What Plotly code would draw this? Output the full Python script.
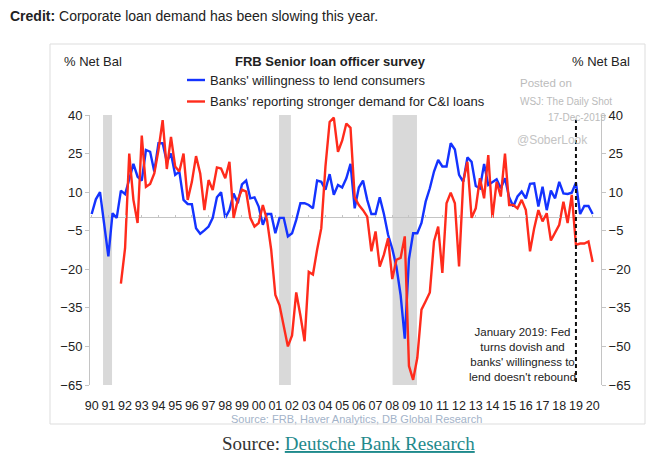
import plotly.graph_objects as go

# ---------------- data ----------------
BLUE_START = 1990.0   # quarterly series start (decimal year)
blue_vals = [
    1.5, 7.2, 10, -2.5, -15, 1.8, 0, 10.6, 9.2, 15, 21, 16, 14.5, 26.4, 25.7, 18,
    29, 29, 21.8, 25, 16.7, 18, 7, 5.4, 5.3, -4, -6.2, -4.9, -3.4, 0, 8, 10,
    0, 3, 9.5, 5.7, 13, 14.5, 7.6,
    8, 4.4, -2.7, 1.5, 1.5, -6, 0, 0, -7.2, -6, -0.8, 5.7, 5.7, 5, 3.7, 14.5,
    14, 11, 17, 9, 12.8, 11.8, 15.4, 21, 3.7, 11.8, 14.5, 7, 1.5, 1.5, 8, 1.5,
    -6.6, -12, -19, -30, -47, -16, -6, -6, -2,
    6.3, 11.5, 18, 22.5, 20, 20, 29, 26.6, 16.7, 14, 23.5, 21.8, 12.4, 11.5, 21,
    12.8, 14, 15, 11.5, 15.4, 8, 4.4, 8.3, 10.2, 7.6, 13.2, 13.4, 4.4, 12.1, 3,
    10.6, 7.6, 14, 9.5, 9.3, 9.8, 13.7, 1.5, 4.6, 4.6, 1.5,
]
RED_START = 1991.75
red_vals = [
    -25.6, -11.8, 25, 7, -2, 32, 12.1, 13.2, 17.3, 26.4, 38, 19, 31.5, 20, 18, 25,
    7, 14, 24, 17.3, 3, 14.7, 10.8, 19.6, 19.2, 15.4, 21.8, 0, 7, 11, 10.2, 0,
    -3.4, -2, 5, -0.8, -12.4, -30, -34, -42, -50, -45.7, -29, -38, -48, -21, -22,
    -12.4, -4, 20, 37.3, 39, 25.7, 30, 36.7, 35, 8, 5, 3, 0.5, -13, -5.3, -19,
    -14.3, -7.9, -23.8, -16.3, -15.6, -7.2, -57.6, -63, -54.4, -35.7,
    -32.4, -29, -9.2, -3.4, -21.4, 5.7, 9.8, 5.7, -18.9, 14, 21.8, 0, 3.7, 15.4,
    7.6, 24.4, 0, 14, 8.3, 25, 5, 5, 3.7, 7, 3, -13, -4, 3, -1.4, 1.8, -8.8,
    -5.7, -2.7, 6.3, -2, 8.9, -10.5, -10, -10, -9.2, -17.2,
]
blue_name = "Banks' willingness to lend consumers"
red_name = "Banks' reporting stronger demand for C&I loans"
year_ticks = list(range(1990, 2021))
year_labels = [f"{y % 100:02d}" for y in year_ticks]
y_ticks = [-65, -50, -35, -20, -5, 10, 25, 40]
recessions = [(1990.68, 1991.22), (2001.22, 2001.93), (2008.02, 2009.48)]
event_year = 2019.0

blue_x = [BLUE_START + 0.25 * i for i in range(len(blue_vals))]
red_x = [RED_START + 0.25 * i for i in range(len(red_vals))]

# ---------------- layout geometry ----------------
W, H = 646, 462
L, R, T, B = 90, 45, 115, 77
PW, PH = W - L - R, H - T - B
def px(x):
    return (x - L) / PW
def py(y):
    return (H - B - y) / PH

FONT = "Liberation Sans, Arial, Helvetica, sans-serif"
BLUE = "#1433ff"
RED = "#ff2b1c"
AXC = "#c4c4c4"
TXT = "#222222"

fig = go.Figure()
fig.add_trace(go.Scatter(x=blue_x, y=blue_vals, mode="lines", name=blue_name,
                         line=dict(color=BLUE, width=2.4), xaxis="x", yaxis="y"))
fig.add_trace(go.Scatter(x=red_x, y=red_vals, mode="lines", name=red_name,
                         line=dict(color=RED, width=2.4), xaxis="x2", yaxis="y2"))

XR = [1989.9, 2020.5]
YR = [-65, 40]

shapes = []
for a, b in recessions:
    shapes.append(dict(type="rect", xref="x", yref="y", x0=a, x1=b, y0=YR[0], y1=YR[1],
                       fillcolor="#d9d9d9", line=dict(width=0), layer="below"))
shapes.append(dict(type="line", xref="x", yref="y", x0=event_year, x1=event_year,
                   y0=-63.8, y1=38.2, line=dict(color="#111111", width=2, dash="4px,3px")))
# outer frame of the chart image
shapes.append(dict(type="rect", xref="paper", yref="paper", x0=px(50), x1=px(645),
                   y0=py(424), y1=py(44), line=dict(color="#dddddd", width=1)))
# legend keys
shapes.append(dict(type="line", xref="paper", yref="paper", x0=px(187), x1=px(205),
                   y0=py(80), y1=py(80), line=dict(color=BLUE, width=2.4)))
shapes.append(dict(type="line", xref="paper", yref="paper", x0=px(187), x1=px(205),
                   y0=py(101.5), y1=py(101.5), line=dict(color=RED, width=2.4)))

def ann(text, x, y, size=13, color=TXT, xa="left", ya="middle", family=FONT, align="left"):
    return dict(text=text, x=px(x), y=py(y), xref="paper", yref="paper", showarrow=False,
                xanchor=xa, yanchor=ya, align=align,
                font=dict(size=size, color=color, family=family))

annotations = [
    ann("<b>Credit:</b> Corporate loan demand has been slowing this year.", 8, 16, size=14),
    ann("% Net Bal", 62, 61),
    ann("% Net Bal", 632, 61, xa="right"),
    ann("<b>FRB Senior loan officer survey</b>", 330, 61, xa="center"),
    ann(blue_name, 208, 80),
    ann(red_name, 208, 101.5),
    ann("Posted on", 518, 83, size=11.5, color="#bbbbbb"),
    ann("WSJ: The Daily Shot", 518, 101, size=10, color="#bbbbbb"),
    ann("17-Dec-2019", 608, 117.5, size=10, color="#bbbbbb", xa="right"),
    ann("@SoberLook", 515, 140, size=12, color="#c4c4c4"),
    ann("January 2019: Fed<br>turns dovish and<br>banks' willingness to<br>lend doesn't rebound",
        522, 354, size=11.5, xa="center", align="center"),
    ann("Source: FRB, Haver Analytics, DB Global Research", 356, 419, size=11,
        color="#a3b3c9", xa="center"),
    ann("Source: <span style='color:#1f8a8c'><u>Deutsche Bank Research</u></span>", 348, 443.5,
        size=19, color="#333333", xa="center", family="Liberation Serif, Georgia, serif"),
]

fig.update_layout(
    width=W, height=H,
    margin=dict(l=L, r=R, t=T, b=B, pad=0),
    paper_bgcolor="white", plot_bgcolor="white",
    showlegend=False,
    font=dict(family=FONT, color=TXT, size=13),
    shapes=shapes, annotations=annotations,
    xaxis=dict(range=XR, tickvals=year_ticks, ticktext=year_labels, showline=False,
               ticks="", showgrid=False, zeroline=False, tickfont=dict(size=12.5, color=TXT),
               ticklabelstandoff=11, fixedrange=True),
    xaxis2=dict(range=XR, overlaying="x", anchor="free", position=(0 - YR[0]) / (YR[1] - YR[0]),
                side="top", tickvals=year_ticks, showticklabels=False, ticks="outside",
                ticklen=3, tickcolor=AXC, showline=False, showgrid=False, zeroline=False),
    yaxis=dict(range=YR, tickvals=y_ticks, showline=True, linecolor=AXC, linewidth=1,
               ticks="outside", ticklen=4, tickcolor=AXC, showgrid=False,
               zeroline=True, zerolinecolor=AXC, zerolinewidth=1,
               tickfont=dict(size=13, color=TXT)),
    yaxis2=dict(range=YR, overlaying="y", anchor="free", position=1.0, side="right",
                tickvals=y_ticks, showline=True, linecolor=AXC, linewidth=1,
                ticks="outside", ticklen=4, tickcolor=AXC, showgrid=False, zeroline=False,
                tickfont=dict(size=13, color=TXT)),
)

fig.write_html("out.html", config={"displayModeBar": False},
               post_script="document.body.style.margin='0px';")
